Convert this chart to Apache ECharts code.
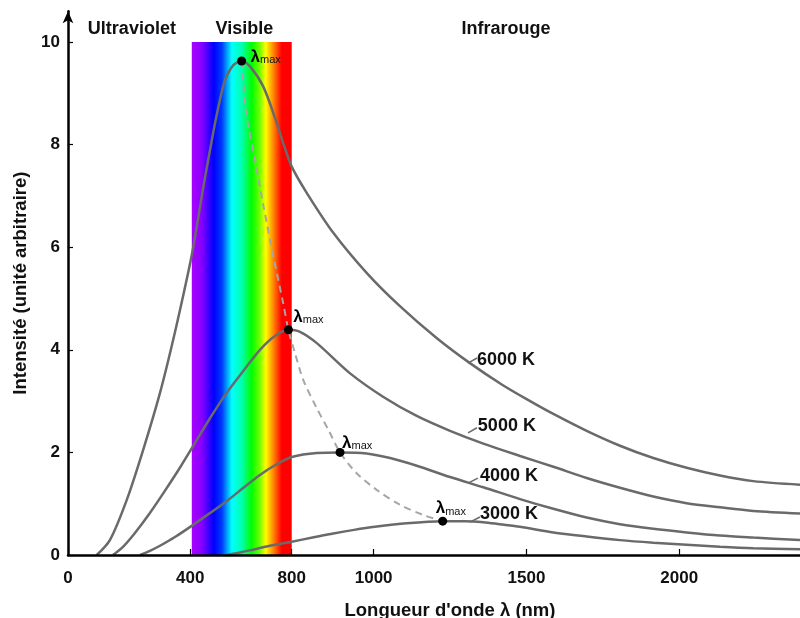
<!DOCTYPE html>
<html><head><meta charset="utf-8">
<script src="https://cdn.jsdelivr.net/npm/echarts@6/dist/echarts.min.js"></script>
<style>html,body{margin:0;padding:0;background:#fff}#c{width:800px;height:618px}</style>
</head><body><div id="c"></div>
<script>
// ---- data (x: wavelength in nm, y: intensity, arbitrary unit) ----
const temps = ['6000 K', '5000 K', '4000 K', '3000 K'];
const curve6000 = [[94,0],[137,0.29],[192,1.07],[246,2.05],[301,3.16],[344,4.19],[388,5.36],[410,6.01],[443,7.18],[475,8.23],[497,8.87],[514,9.26],[541,9.55],[568,9.63],[596,9.52],[639,9.13],[683,8.42],[704,8.03],[732,7.57],[781,7.06],[868,6.28],[977,5.50],[1086,4.85],[1206,4.23],[1315,3.74],[1423,3.31],[1512,3.00],[1588,2.75],[1697,2.42],[1806,2.13],[1915,1.89],[2024,1.70],[2133,1.55],[2242,1.44],[2395,1.37]];
const curve5000 = [[147,0],[180,0.16],[219,0.43],[268,0.82],[317,1.25],[366,1.70],[410,2.13],[465,2.67],[519,3.16],[574,3.59],[628,4.00],[677,4.27],[721,4.39],[759,4.35],[814,4.13],[923,3.54],[1032,3.08],[1141,2.71],[1250,2.42],[1359,2.17],[1479,1.93],[1588,1.72],[1697,1.50],[1806,1.31],[1915,1.14],[2024,1.01],[2133,0.93],[2242,0.86],[2395,0.81]];
const curve4000 = [[236,0],[268,0.08],[301,0.18],[350,0.35],[410,0.59],[465,0.82],[519,1.05],[574,1.31],[628,1.56],[677,1.75],[732,1.91],[814,1.99],[890,2.00],[977,1.98],[1054,1.89],[1141,1.74],[1250,1.52],[1359,1.32],[1479,1.09],[1588,0.90],[1697,0.73],[1806,0.60],[1915,0.51],[2024,0.44],[2133,0.38],[2242,0.34],[2395,0.29]];
const curve3000 = [[517,0],[563,0.05],[595,0.09],[661,0.18],[732,0.26],[800,0.34],[868,0.42],[936,0.49],[1004,0.55],[1108,0.62],[1226,0.66],[1299,0.66],[1359,0.64],[1413,0.60],[1479,0.55],[1588,0.44],[1697,0.36],[1806,0.29],[1915,0.24],[2024,0.20],[2133,0.16],[2242,0.13],[2395,0.11]];
const peaks = [[568,9.63],[721,4.39],[890,2.00],[1226,0.66]];
const wienLocus = [[568,9.63],[574,9.16],[581,8.71],[592,8.29],[605,7.90],[617,7.54],[639,6.82],[672,5.82],[704,4.91],[721,4.39],[743,3.93],[770,3.41],[814,2.86],[852,2.44],[890,2.00],[945,1.59],[1010,1.27],[1086,0.98],[1162,0.78],[1226,0.66]];
const xTickPositions = [0, 400, 732, 1000, 1500, 2000];
const xTickLabels = ['0', '400', '800', '1000', '1500', '2000'];
const yTicks = [0, 2, 4, 6, 8, 10];
const visibleBand = [405, 732];
const regionNames = ['Ultraviolet', 'Visible', 'Infrarouge'];
const regionCenters = [[209, 10.25], [577, 10.25], [1433, 10.25]];
const tempLabelAnchors = [[1338, 3.80], [1341, 2.51], [1348, 1.54], [1348, 0.80]];
const leaderLines = [[[1309, 3.74], [1338, 3.84]], [[1309, 2.38], [1338, 2.48]], [[1309, 1.40], [1341, 1.50]], [[1315, 0.64], [1348, 0.74]]];

// ---- styles ----
const FONT = '"Liberation Sans", Arial, Helvetica, sans-serif';
const TXT = '#111';
const CURVE = '#6a6a6a';
const peakLabelOffsets = [[9, -5], [5, -14], [2, -11], [-7, -14]];

const curves = [curve6000, curve5000, curve4000, curve3000];

const series = [];
// visible band
series.push({
  type: 'line', data: [], z: 1, silent: true,
  markArea: {
    silent: true,
    itemStyle: {
      opacity: 1,
      color: {
        type: 'linear', x: 0, y: 0, x2: 1, y2: 0,
        colorStops: [
          {offset: 0, color: '#a800ff'}, {offset: 0.1, color: '#8800ff'},
          {offset: 0.22, color: '#0000ff'}, {offset: 0.3, color: '#0038ff'},
          {offset: 0.4, color: '#00ffff'}, {offset: 0.5, color: '#00ffb0'},
          {offset: 0.6, color: '#00ff00'}, {offset: 0.68, color: '#70ff00'},
          {offset: 0.74, color: '#ffff00'}, {offset: 0.82, color: '#ff8000'},
          {offset: 0.9, color: '#ff0000'}, {offset: 1, color: '#ff0000'}
        ]
      }
    },
    data: [[{coord: [visibleBand[0], 0]}, {coord: [visibleBand[1], 10]}]]
  }
});
// dashed Wien locus
series.push({
  type: 'line', data: wienLocus, smooth: 0.3, symbol: 'none', z: 2,
  lineStyle: {color: '#a6a6a6', width: 2, type: [7, 5]}
});
// curves
curves.forEach((c, i) => {
  series.push({
    name: temps[i], type: 'line', data: c, smooth: 0.3, symbol: 'none', z: 3,
    lineStyle: {color: CURVE, width: 2.5},
    markLine: {
      silent: true, symbol: 'none', animation: false,
      lineStyle: {color: CURVE, width: 1.5, type: 'solid'},
      label: {show: false},
      data: [[{coord: leaderLines[i][0]}, {coord: leaderLines[i][1]}]]
    }
  });
});
// temperature labels
series.push({
  type: 'scatter', symbolSize: 0, z: 5, silent: true, itemStyle: {opacity: 1},
  data: tempLabelAnchors.map((p, i) => ({value: p, name: temps[i]})),
  label: {show: true, position: 'inside', align: 'left', verticalAlign: 'middle',
    formatter: p => p.name, fontFamily: FONT, fontWeight: 'bold', fontSize: 18, color: TXT}
});
// peaks with lambda max labels
series.push({
  type: 'scatter', symbol: 'circle', symbolSize: 9, z: 6, silent: true,
  itemStyle: {color: '#000', opacity: 1},
  data: peaks.map((p, i) => ({value: p, label: {offset: peakLabelOffsets[i]}})),
  label: {show: true, position: 'inside', align: 'left', verticalAlign: 'middle',
    formatter: '{l|λ}{m|max}',
    rich: {
      l: {fontFamily: FONT, fontWeight: 'bold', fontSize: 17, color: '#000', lineHeight: 20, verticalAlign: 'bottom'},
      m: {fontFamily: FONT, fontSize: 11, color: '#111', lineHeight: 16, verticalAlign: 'bottom'}
    }}
});
// region names
series.push({
  type: 'scatter', symbolSize: 0, z: 5, silent: true, itemStyle: {opacity: 1},
  data: regionCenters.map((p, i) => ({value: p, name: regionNames[i]})),
  label: {show: true, position: 'inside', align: 'center', verticalAlign: 'middle',
    formatter: p => p.name, fontFamily: FONT, fontWeight: 'bold', fontSize: 18, color: TXT}
});

const chart = echarts.init(document.getElementById('c'), null, {renderer: 'canvas'});
chart.setOption({
  animation: false,
  backgroundColor: '#fff',
  grid: {left: 68, right: 0, top: 11.2, bottom: 63, containLabel: false, outerBoundsMode: 'none'},
  xAxis: {
    type: 'value', min: 0, max: 2395, z: 10,
    name: "Longueur d'onde λ (nm)", nameLocation: 'middle', nameGap: 46,
    nameTextStyle: {fontFamily: FONT, fontWeight: 'bold', fontSize: 18.5, color: TXT, padding: [0, 0, 0, 32]},
    axisLine: {lineStyle: {color: '#000', width: 2.5}},
    axisTick: {inside: true, length: 6, customValues: xTickPositions, lineStyle: {color: '#000', width: 1.2}},
    axisLabel: {customValues: xTickPositions, margin: 15,
      formatter: v => xTickLabels[xTickPositions.indexOf(v)],
      fontFamily: FONT, fontWeight: 'bold', fontSize: 17, color: TXT},
    splitLine: {show: false}
  },
  yAxis: {
    type: 'value', min: 0, max: 10.6, z: 10,
    name: 'Intensité (unité arbitraire)', nameLocation: 'middle', nameGap: 31, nameRotate: 90,
    nameTextStyle: {fontFamily: FONT, fontWeight: 'bold', fontSize: 18.5, color: TXT},
    axisLine: {show: true, symbol: ['none', 'arrow'], symbolSize: [8, 12], symbolOffset: [0, 0], lineStyle: {color: '#000', width: 2.5}},
    axisTick: {show: true, inside: true, length: 5, customValues: yTicks, lineStyle: {color: '#000', width: 1.2}},
    axisLabel: {customValues: yTicks, margin: 8, verticalAlignMinLabel: 'middle', verticalAlignMaxLabel: 'middle',
      fontFamily: FONT, fontWeight: 'bold', fontSize: 17, color: TXT},
    splitLine: {show: false}
  },
  series: series
});
</script>
</body></html>
